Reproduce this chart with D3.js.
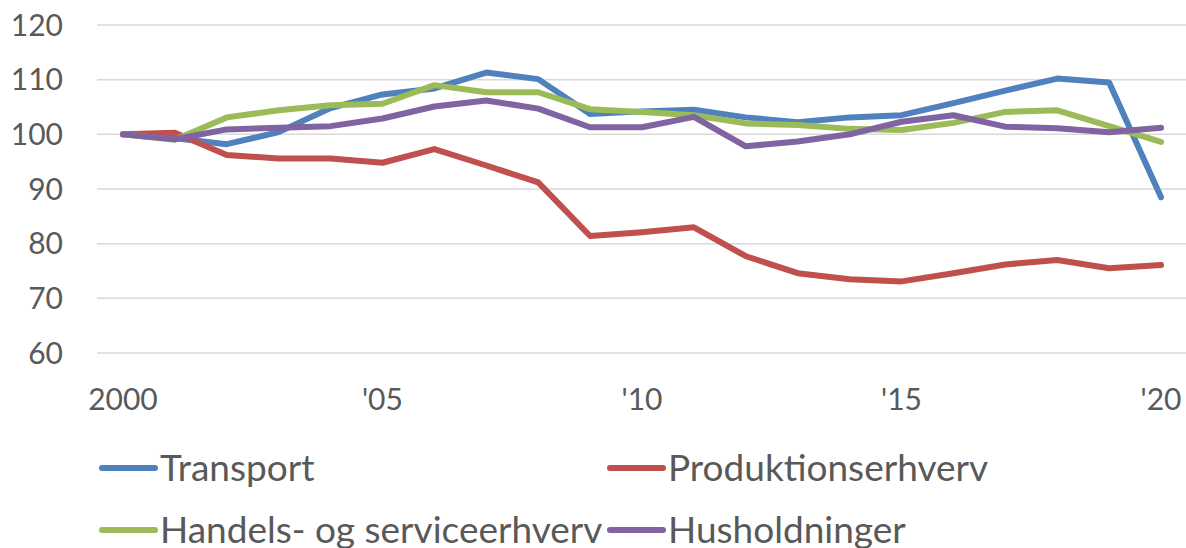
<!DOCTYPE html>
<html>
<head>
<meta charset="utf-8">
<script src="https://cdn.jsdelivr.net/npm/d3@7"></script>
<style>
  html, body { margin: 0; padding: 0; background: #fff; }
  svg { display: block; }
  text { font-family: Lato, "Open Sans", sans-serif; fill: #595959; }
</style>
</head>
<body>
<div id="chart"></div>
<script>
(function () {
  const years = d3.range(2000, 2021);
  const yTicks = [60, 70, 80, 90, 100, 110, 120];
  const xTickYears = [2000, 2005, 2010, 2015, 2020];
  const xTickLabels = ['2000', "'05", "'10", "'15", "'20"];

  const transport = [100, 99.3, 98.2, 100.4, 104.8, 107.3, 108.4, 111.3, 110.1, 103.7, 104.2,
    104.5, 103.1, 102.2, 103.1, 103.5, 105.7, 108.0, 110.2, 109.5, 88.5];
  const produktion = [100, 100.3, 96.2, 95.6, 95.6, 94.8, 97.3, 94.3, 91.2, 81.4, 82.1,
    83.0, 77.7, 74.6, 73.5, 73.1, 74.6, 76.2, 77.0, 75.5, 76.1];
  const handel = [100, 99.0, 103.1, 104.4, 105.3, 105.6, 109.0, 107.7, 107.7, 104.6, 104.1,
    103.5, 102.0, 101.7, 101.0, 100.8, 102.1, 104.1, 104.4, 101.5, 98.6];
  const husholdning = [100, 99.1, 100.9, 101.2, 101.5, 102.9, 105.1, 106.2, 104.7, 101.3, 101.3,
    103.2, 97.8, 98.7, 100.0, 102.3, 103.5, 101.4, 101.1, 100.4, 101.2];

  const seriesNames = ['Transport', 'Produktionserhverv', 'Handels- og serviceerhverv', 'Husholdninger'];
  const seriesValues = [transport, produktion, handel, husholdning];
  const COLORS = ['#4f81bd', '#c0504d', '#9bbb59', '#8064a2'];

  const width = 1186, height = 548;
  const plot = { left: 97, right: 1187, top: 25, bottom: 353 };

  const svg = d3.select('#chart').append('svg')
    .attr('width', width)
    .attr('height', height);

  const x = d3.scalePoint()
    .domain(years)
    .range([plot.left, plot.right])
    .padding(0.5);

  const y = d3.scaleLinear()
    .domain([60, 120])
    .range([plot.bottom, plot.top]);

  // gridlines
  svg.append('g')
    .selectAll('line')
    .data(yTicks)
    .join('line')
    .attr('x1', plot.left)
    .attr('x2', plot.right)
    .attr('y1', function (d) { return y(d); })
    .attr('y2', function (d) { return y(d); })
    .attr('stroke', '#d9d9d9')
    .attr('stroke-width', 1.5);

  // y labels
  svg.append('g')
    .selectAll('text')
    .data(yTicks)
    .join('text')
    .attr('x', 63)
    .attr('y', function (d) { return y(d); })
    .attr('dy', '0.36em')
    .attr('text-anchor', 'end')
    .style('font-size', '30px')
    .text(function (d) { return d; });

  // x labels
  svg.append('g')
    .selectAll('text')
    .data(xTickYears)
    .join('text')
    .attr('x', function (d) { return x(d); })
    .attr('y', 410)
    .attr('text-anchor', 'middle')
    .style('font-size', '30px')
    .text(function (d, i) { return xTickLabels[i]; });

  const line = d3.line()
    .x(function (d, i) { return x(years[i]); })
    .y(function (d) { return y(d); });

  svg.append('g')
    .selectAll('path')
    .data(seriesValues)
    .join('path')
    .attr('d', line)
    .attr('fill', 'none')
    .attr('stroke', function (d, i) { return COLORS[i]; })
    .attr('stroke-width', 6)
    .attr('stroke-linejoin', 'round')
    .attr('stroke-linecap', 'round');

  // legend (2 x 2, second row is cut by the bottom edge)
  const legendPos = [
    { x: 102, y: 468 },
    { x: 610, y: 468 },
    { x: 102, y: 530 },
    { x: 610, y: 530 }
  ];

  const legend = svg.append('g')
    .selectAll('g')
    .data(seriesNames)
    .join('g')
    .attr('transform', function (d, i) { return 'translate(' + legendPos[i].x + ',' + legendPos[i].y + ')'; });

  legend.append('line')
    .attr('x1', 0)
    .attr('x2', 53)
    .attr('stroke', function (d, i) { return COLORS[i]; })
    .attr('stroke-width', 6)
    .attr('stroke-linecap', 'round');

  legend.append('text')
    .attr('x', 58)
    .attr('dy', '0.36em')
    .style('font-size', '37px')
    .text(function (d) { return d; });
})();
</script>
</body>
</html>
